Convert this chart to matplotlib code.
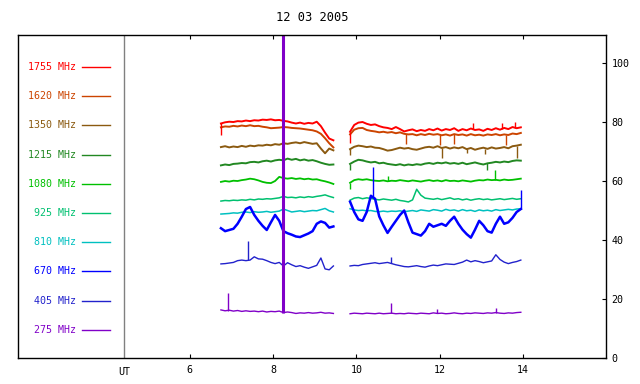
import numpy as np
import matplotlib
matplotlib.use("Agg")
import matplotlib.pyplot as plt

# sample hours (UT) of the two observing blocks
hours_a = np.round(np.arange(6.75, 9.46, 0.1), 2)
hours_b = np.round(np.arange(9.85, 13.96, 0.1), 2)

title = "12 03 2005"
freqs = ["1755 MHz", "1620 MHz", "1350 MHz", "1215 MHz", "1080 MHz",
         "925 MHz", "810 MHz", "670 MHz", "405 MHz", "275 MHz"]
colors = ["#ff0000", "#cc4400", "#8b5a10", "#228822", "#00c000",
          "#00c070", "#00c0c0", "#0000ff", "#2222cc", "#8000c8"]

# block 1 (6.75 - 9.45 UT)
f1755_a = [79.5, 79.9, 80.1, 80.0, 80.3, 80.2, 80.5, 80.3, 80.6, 80.5, 80.8, 80.7, 80.9, 80.6,
           80.7, 80.4, 80.2, 79.8, 79.5, 79.8, 79.4, 79.7, 79.5, 80.1, 78.6, 76.4, 74.4, 73.8]
f1620_a = [78.2, 78.5, 78.4, 78.7, 78.5, 78.8, 78.6, 78.9, 78.6, 78.7, 78.4, 78.2, 77.9, 78.0,
           78.1, 78.3, 78.2, 78.0, 77.9, 77.8, 77.6, 77.4, 77.2, 76.8, 76.0, 74.5, 72.8, 71.4]
f1350_a = [71.5, 71.8, 71.4, 71.7, 71.5, 71.9, 71.6, 72.0, 71.8, 72.1, 72.0, 72.3, 72.1, 72.5,
           72.3, 72.8, 72.6, 72.9, 73.1, 72.8, 73.2, 72.9, 72.6, 72.8, 71.0, 69.4, 71.0, 70.4]
f1215_a = [65.3, 65.6, 65.4, 65.8, 65.9, 66.1, 66.0, 66.4, 66.5, 66.3, 66.7, 66.9, 66.6, 67.0,
           67.2, 67.0, 67.6, 67.2, 67.5, 67.0, 67.3, 66.9, 67.1, 66.7, 66.2, 65.8, 65.5, 65.6]
f1080_a = [59.7, 60.0, 59.8, 60.1, 60.0, 60.3, 60.5, 60.8, 60.6, 60.2, 59.7, 59.4, 59.3, 60.0,
           61.4, 61.0, 60.8, 61.0, 60.7, 60.9, 60.6, 60.8, 60.5, 60.6, 60.2, 59.9, 59.5, 59.0]
f925_a = [53.2, 53.4, 53.3, 53.5, 53.4, 53.6, 53.5, 53.8, 53.6, 53.9, 53.8, 54.0, 53.9, 54.1,
          54.3, 54.8, 54.4, 54.5, 54.3, 54.6, 54.4, 54.7, 54.5, 54.8, 55.0, 55.3, 54.8, 54.4]
f810_a = [48.8, 48.9, 49.0, 49.2, 49.1, 49.4, 49.5, 49.3, 49.6, 49.4, 49.5, 49.7, 49.4, 49.6,
          49.8, 50.5, 50.0, 49.5, 49.7, 49.9, 49.6, 49.8, 50.0, 49.9, 50.3, 50.7, 49.9, 49.5]
f670_a = [44.0, 43.0, 43.4, 43.8, 45.5, 47.9, 50.5, 51.2, 48.5, 46.5, 44.8, 43.4, 46.0, 48.5,
          46.5, 43.0, 42.3, 41.8, 41.2, 41.0, 41.6, 42.2, 43.0, 45.5, 46.3, 45.8, 44.2, 44.6]
f405_a = [31.9, 32.0, 32.2, 32.4, 33.0, 33.2, 33.0, 33.2, 34.3, 33.6, 33.5, 33.0, 32.4, 32.0,
          32.4, 31.2, 32.3, 31.6, 31.0, 31.3, 30.8, 30.4, 30.9, 31.4, 33.9, 30.2, 29.9, 31.2]
f275_a = [16.3, 16.0, 16.2, 15.9, 16.1, 15.8, 16.0, 15.8, 15.9, 15.7, 15.9, 15.6, 15.8, 15.7,
          15.9, 15.4, 15.6, 15.4, 15.1, 15.3, 15.2, 15.4, 15.2, 15.3, 15.5, 15.2, 15.3, 15.1]

# block 2 (9.85 - 13.95 UT)
f1755_b = [76.7, 79.0, 79.8, 80.0, 79.4, 79.0, 79.2, 78.6, 78.2, 78.0, 77.6, 78.3, 77.6, 76.8,
           77.2, 77.5, 76.9, 77.3, 77.0, 77.6, 77.2, 77.8, 77.1, 77.6, 77.3, 77.9, 77.0, 77.6,
           77.2, 77.8, 77.3, 77.5, 77.0, 77.7, 77.3, 77.9, 77.4, 78.0, 77.6, 78.3, 77.9, 78.2]
f1620_b = [75.8, 77.4, 77.9, 78.0, 77.3, 77.0, 76.8, 76.5, 76.7, 76.4, 76.6, 76.2, 76.5, 76.0,
           75.8, 75.9, 75.5, 75.9, 75.6, 76.0, 75.7, 75.9, 75.5, 75.8, 75.4, 75.9, 75.6, 75.8,
           75.4, 75.9, 75.5, 75.7, 75.4, 75.8, 75.6, 75.9, 75.5, 75.8, 75.6, 76.1, 75.9, 76.3]
f1350_b = [70.8, 71.6, 72.0, 71.8, 71.5, 71.7, 71.3, 71.2, 70.8, 70.3, 70.5, 70.9, 71.3, 71.0,
           71.2, 70.8, 70.6, 71.0, 71.4, 71.6, 71.3, 71.8, 71.2, 71.5, 71.0, 71.4, 71.1, 71.5,
           70.8, 71.2, 70.6, 71.0, 71.3, 70.9, 71.4, 71.0, 71.2, 71.5, 71.1, 71.8, 72.0, 72.3]
f1215_b = [65.8, 66.6, 67.2, 67.0, 66.6, 66.3, 66.5, 66.0, 66.2, 65.8, 65.6, 65.4, 65.7, 65.3,
           65.6, 65.4, 65.7, 65.5, 65.9, 66.1, 65.8, 66.2, 66.0, 66.3, 65.9, 66.1, 65.8, 66.2,
           65.7, 66.0, 66.3, 65.9, 65.6, 66.0, 66.2, 66.5, 66.3, 66.6, 66.4, 66.8, 67.0, 66.9]
f1080_b = [59.4, 60.3, 60.6, 60.4, 60.6, 60.3, 60.1, 60.0, 60.2, 59.9, 60.1, 60.0, 60.3, 60.1,
           59.9, 60.2, 60.0, 59.8, 60.1, 60.3, 60.0, 60.2, 59.9, 60.3, 60.0, 60.1, 59.9, 60.2,
           60.0, 59.8, 60.1, 60.3, 60.2, 60.5, 60.3, 60.4, 60.2, 60.5, 60.3, 60.4, 60.6, 60.8]
f925_b = [53.5, 54.2, 54.4, 54.0, 54.3, 54.1, 53.8, 53.6, 53.9, 53.7, 53.5, 53.8, 53.4, 53.2,
          52.9, 53.6, 57.2, 55.2, 54.2, 54.0, 53.8, 54.1, 53.7, 54.0, 54.3, 53.8, 54.0, 53.6,
          53.9, 53.5, 53.8, 54.0, 53.7, 53.9, 53.6, 53.8, 54.0, 53.7, 53.9, 54.1, 53.8, 54.0]
f810_b = [50.6, 50.2, 50.0, 50.1, 49.9, 50.0, 49.7, 49.6, 49.8, 49.6, 49.8, 49.7, 49.9, 49.6,
          49.8, 50.0, 49.7, 50.2, 50.0, 49.8, 50.3, 50.1, 49.8, 50.4, 50.0, 50.2, 49.8, 50.3,
          49.9, 50.1, 49.7, 50.2, 49.9, 50.1, 49.8, 50.3, 50.0, 50.2, 50.4, 50.2, 50.5, 50.6]
f670_b = [53.0, 49.5, 47.0, 46.5, 49.5, 55.0, 54.0, 48.0, 45.0, 42.4, 44.5, 46.5, 48.5, 50.0,
          46.0, 42.5, 42.0, 41.5, 43.0, 45.5, 44.5, 45.0, 45.5, 44.8, 46.5, 47.9, 45.5, 43.5,
          42.0, 40.8, 43.5, 46.5, 45.0, 43.0, 42.5, 45.5, 47.9, 45.5, 46.0, 47.5, 49.5, 50.5]
f405_b = [31.2, 31.4, 31.3, 31.7, 31.9, 32.1, 32.3, 32.0, 32.2, 32.4, 32.0, 31.6, 31.3, 31.0,
          30.9, 31.1, 31.3, 31.0, 30.8, 31.2, 31.5, 31.3, 31.6, 31.9, 31.8, 31.7, 32.1, 32.5,
          33.2, 32.6, 33.0, 32.7, 32.3, 32.6, 32.9, 35.0, 33.4, 32.5, 32.0, 32.4, 32.7, 33.2]
f275_b = [15.0, 15.2, 15.1, 15.0, 15.2, 15.1, 15.0, 15.2, 15.0, 15.1, 15.2, 15.0, 15.1, 15.0,
          15.2, 15.1, 15.0, 15.2, 15.1, 15.0, 15.3, 15.1, 15.2, 15.0, 15.1, 15.3, 15.1, 15.0,
          15.2, 15.1, 15.3, 15.2, 15.1, 15.3, 15.2, 15.4, 15.2, 15.1, 15.3, 15.2, 15.4, 15.5]

# single-sample spikes: channel, hour, from, to
spike_chan = ["1755 MHz", "1755 MHz", "1755 MHz", "1755 MHz", "1755 MHz",
              "1620 MHz", "1620 MHz", "1620 MHz", "1620 MHz",
              "1350 MHz", "1350 MHz", "1350 MHz", "1350 MHz", "1350 MHz",
              "1215 MHz", "1215 MHz", "1080 MHz", "1080 MHz", "1080 MHz",
              "670 MHz", "670 MHz", "405 MHz", "405 MHz",
              "275 MHz", "275 MHz", "275 MHz", "275 MHz"]
spike_hour = [6.74, 9.86, 12.8, 13.5, 13.8,
              11.2, 12.0, 12.35, 13.6,
              9.86, 12.05, 12.65, 13.1, 13.85,
              9.86, 13.14, 9.86, 10.77, 13.33,
              10.4, 13.96, 7.39, 10.83,
              6.93, 10.83, 11.93, 13.35]
spike_lo = [79.5, 76.7, 77.5, 77.6, 78.0,
            76.0, 75.8, 75.9, 75.7,
            70.8, 71.2, 70.8, 71.0, 72.0,
            65.8, 66.0, 59.4, 60.0, 60.4,
            54.5, 50.5, 33.1, 32.1,
            16.1, 15.2, 15.1, 15.4]
spike_hi = [75.5, 73.0, 79.6, 79.8, 79.9,
            72.5, 72.3, 72.6, 72.2,
            68.8, 67.8, 69.4, 69.3, 67.8,
            63.8, 63.8, 57.3, 61.6, 63.7,
            64.9, 57.0, 39.7, 34.4,
            22.0, 18.5, 16.6, 17.0]

# 275 MHz burst
burst_hour = [8.23]
burst_lo = [15.4]
burst_hi = [110.0]

ut_hour = 4.42
xticks = [6, 8, 10, 12, 14]
yticks = [0, 20, 40, 60, 80, 100]

seg_a = [f1755_a, f1620_a, f1350_a, f1215_a, f1080_a, f925_a, f810_a, f670_a, f405_a, f275_a]
seg_b = [f1755_b, f1620_b, f1350_b, f1215_b, f1080_b, f925_b, f810_b, f670_b, f405_b, f275_b]
widths = [1.4, 1.4, 1.4, 1.4, 1.3, 1.1, 1.1, 1.8, 1.0, 1.0]

plt.rcParams['font.family'] = ['DejaVu Sans Mono']
plt.rcParams['font.size'] = 7.2

fig = plt.figure(figsize=(6.4, 3.84), dpi=100)
ax = fig.add_axes([18 / 640, 26 / 384, 588 / 640, 323 / 384])

for i in range(len(freqs)):
    ax.plot(hours_a, seg_a[i], color=colors[i], lw=widths[i])
    ax.plot(hours_b, seg_b[i], color=colors[i], lw=widths[i])

for ch, h, lo, hi in zip(spike_chan, spike_hour, spike_lo, spike_hi):
    ax.vlines(h, lo, hi, color=colors[freqs.index(ch)], lw=1.0)

ax.vlines(burst_hour, burst_lo, burst_hi, color=colors[-1], lw=2.2)
ax.axvline(ut_hour, color="#808080", lw=1.0)

# legend on the left
for i, name in enumerate(freqs):
    yy = 0.901 - i * 0.0904
    ax.text(0.0986, yy, name, color=colors[i], transform=ax.transAxes,
            ha="right", va="center")
    ax.plot([0.109, 0.156], [yy, yy], color=colors[i], lw=1.0, transform=ax.transAxes)

ax.set_xlim(1.878, 15.995)
ax.set_ylim(0, 109.5)
ax.set_xticks(xticks)
ax.set_xticklabels([str(t) for t in xticks])
ax.set_yticks(yticks)
ax.yaxis.tick_right()
ax.tick_params(axis="x", direction="in", length=3, top=True, bottom=True, pad=5)
ax.tick_params(axis="y", direction="in", length=3, left=False, right=True, pad=4)
for s in ax.spines.values():
    s.set_linewidth(1.0)

ax.set_title(title, pad=10)
fig.text(124 / 640, 1 - 372 / 384, "UT", ha="center", va="center")

fig.savefig("out.png", dpi=100)
